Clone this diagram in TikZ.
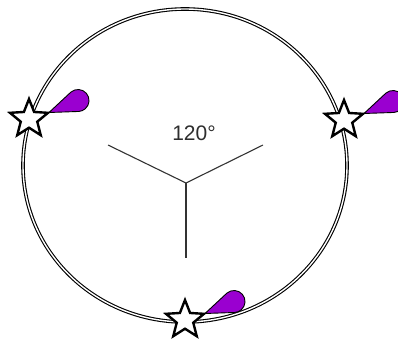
\documentclass[tikz,border=0pt]{standalone}
\usepackage{fontspec}
\setmainfont{Liberation Sans}
\usepackage{tikz}
\usetikzlibrary{shapes.geometric,calc}
\definecolor{Violet}{HTML}{9A00D0}
\definecolor{Spoke}{HTML}{333333}
\definecolor{Label}{HTML}{2E2E2E}
\tikzset{
  x=1pt, y=1pt,
  rim/.style={draw=black, double=white, line width=1.1pt, double distance=1.4pt},
  spoke/.style={draw=Spoke, line width=1.1pt},
  starbox/.style={star, star points=5, star point ratio=2.3, minimum size=40pt,
                  inner sep=0pt, draw=black, line width=2.4pt, fill=white},
  tail/.style={fill=Violet, draw=black, line width=0.9pt, line join=round},
  anglab/.style={font=\fontsize{21}{25}\selectfont, text=Label, inner sep=0pt},
  pics/comet/.style={code={
    \path[tail] (20,6.5) -- (41.8,26.8)
      arc[start angle=131.1, end angle=-86.1, radius=11] -- cycle;
    \node[starbox] (-s) at (0,0) {};
  }},
}
\begin{document}
\begin{tikzpicture}
  \useasboundingbox (0,0) rectangle (398,343);
  \clip (0,0) rectangle (398,343);
  \draw[rim] (185,177.5) ellipse[x radius=162, y radius=156.5];

  \coordinate (mid) at (186,160);
  \coordinate (armL) at (108,198);
  \coordinate (armR) at (263,198);
  \coordinate (armD) at (186,85);
  \draw[spoke] (armL) -- (mid) -- (armR);
  \draw[spoke] (mid) -- (armD);
  \node[anglab] (ang) at (194,210) {120°};

  \pic (L) at (29,224) {comet};
  \pic (R) at (344,223) {comet};
  \pic (B) at (185,23) {comet};
\end{tikzpicture}
\end{document}
